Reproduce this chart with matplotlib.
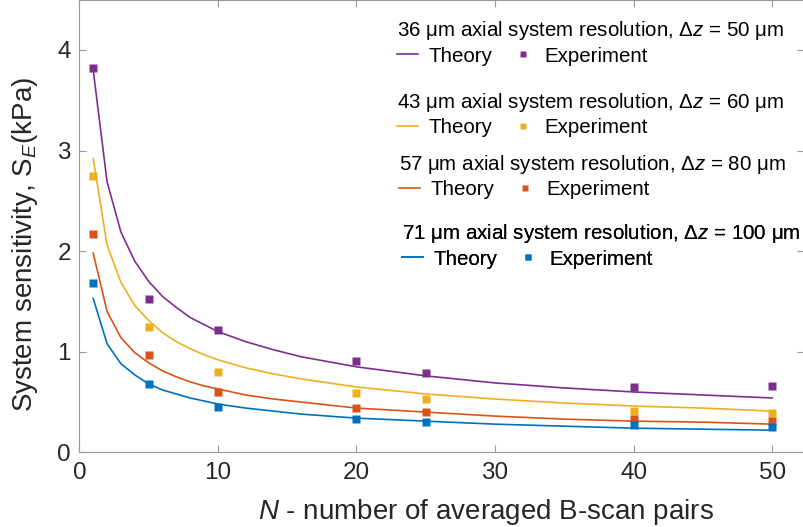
import matplotlib
matplotlib.use('Agg')
import matplotlib.pyplot as plt
import numpy as np

plt.rcParams['font.family'] = ['Liberation Sans', 'DejaVu Sans']
plt.rcParams['mathtext.fontset'] = 'custom'
plt.rcParams['mathtext.rm'] = 'Liberation Sans'
plt.rcParams['mathtext.it'] = 'Liberation Sans:italic'

# theory curves
n_theory = [1, 2, 3, 4, 5, 6, 7, 8, 9, 10, 12, 14, 16, 18, 20, 25, 30, 35, 40, 45, 50]
theory_50 = [3.80, 2.69, 2.19, 1.90, 1.70, 1.55, 1.44, 1.34, 1.27, 1.20, 1.10, 1.02, 0.95, 0.90, 0.85, 0.76, 0.69, 0.64, 0.60, 0.57, 0.54]
theory_60 = [2.92, 2.06, 1.69, 1.46, 1.31, 1.19, 1.10, 1.03, 0.97, 0.92, 0.84, 0.78, 0.73, 0.69, 0.65, 0.58, 0.53, 0.49, 0.46, 0.44, 0.41]
theory_80 = [1.98, 1.40, 1.14, 0.99, 0.89, 0.81, 0.75, 0.70, 0.66, 0.63, 0.57, 0.53, 0.50, 0.47, 0.44, 0.40, 0.36, 0.33, 0.31, 0.30, 0.28]
theory_100 = [1.53, 1.08, 0.88, 0.77, 0.68, 0.62, 0.58, 0.54, 0.51, 0.48, 0.44, 0.41, 0.38, 0.36, 0.34, 0.31, 0.28, 0.26, 0.24, 0.23, 0.22]

# experiment points
n_exp = [1, 5, 10, 20, 25, 40, 50]
exp_50 = [3.82, 1.52, 1.22, 0.91, 0.785, 0.65, 0.66]
exp_60 = [2.75, 1.25, 0.80, 0.59, 0.53, 0.41, 0.39]
exp_80 = [2.17, 0.97, 0.60, 0.44, 0.40, 0.33, 0.31]
exp_100 = [1.68, 0.68, 0.45, 0.33, 0.30, 0.27, 0.255]

titles = ['36 μm axial system resolution, Δ$z$ = 50 μm',
          '43 μm axial system resolution, Δ$z$ = 60 μm',
          '57 μm axial system resolution, Δ$z$ = 80 μm',
          '71 μm axial system resolution, Δ$z$ = 100 μm']
colors = ['#7E2F8E', '#EDB120', '#D95319', '#0072BD']

fig = plt.figure(figsize=(8.04, 5.27), dpi=100)
ax = fig.add_axes([0.0987, 0.1417, 0.9013, 0.859])

theories = [theory_50, theory_60, theory_80, theory_100]
exps = [exp_50, exp_60, exp_80, exp_100]
handles = []
for th, ex, c in zip(theories, exps, colors):
    l, = ax.plot(n_theory, th, color=c, lw=1.2)
    p, = ax.plot(n_exp, ex, 's', color=c, ms=5.5, mec='none')
    handles.append((l, p))

ax.set_xlim(0, 52.3)
ax.set_ylim(0, 4.5)
ax.set_xticks([0, 10, 20, 30, 40, 50])
ax.set_yticks([0, 1, 2, 3, 4])
ax.tick_params(direction='in', top=True, right=True, length=5, width=0.8,
               color='#999999', labelsize=17.5, labelcolor='#262626')
ax.tick_params(axis='x', pad=7)
ax.tick_params(axis='y', pad=6)
for s in ax.spines.values():
    s.set_color('#999999')
    s.set_linewidth(0.8)

ax.set_xlabel('$N$ - number of averaged B-scan pairs', fontsize=20, color='#262626')
ax.set_ylabel('System sensitivity, S$_{E}$(kPa)', fontsize=20, color='#262626')
ax.xaxis.set_label_coords(0.561, -0.132)
ax.yaxis.set_label_coords(-0.075, 0.46)
ax.xaxis.label.set_va('center')
ax.yaxis.label.set_va('center')

# legends, one per resolution
tops = [0.963, 0.828, 0.709, 0.578]
lefts = [397, 397, 399, 402]
for (l, p), t, top, left in zip(handles, titles, tops, lefts):
    leg = ax.legend([l, p], ['Theory', 'Experiment'], title=t, ncol=2,
                    loc='upper left', bbox_to_anchor=(left / 804, top),
                    bbox_transform=fig.transFigure, frameon=False,
                    fontsize=14.8, title_fontsize=14.8, alignment='left',
                    borderpad=0, borderaxespad=0, handlelength=1.0,
                    handletextpad=0.55, columnspacing=0.95, markerscale=0.8,
                    labelspacing=0.2)
    ax.add_artist(leg)

fig.savefig('out.png', dpi=100)
